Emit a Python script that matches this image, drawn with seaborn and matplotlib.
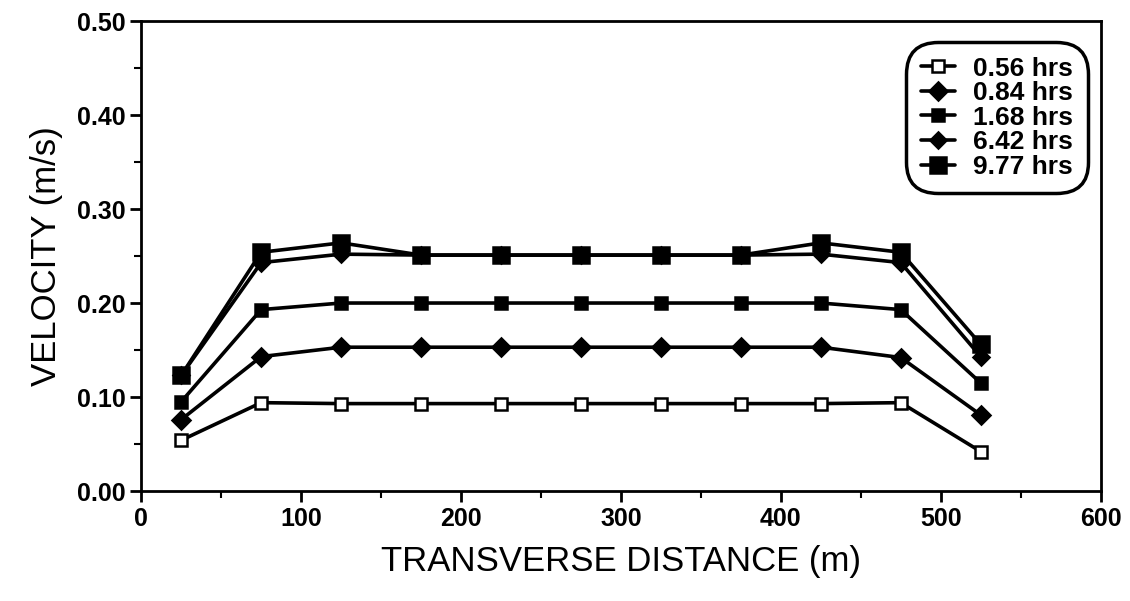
import matplotlib
matplotlib.use("Agg")
import matplotlib.pyplot as plt
import seaborn as sns
import pandas as pd
from matplotlib.ticker import MultipleLocator

# transverse stations (m)
distance = [25, 75, 125, 175, 225, 275, 325, 375, 425, 475, 525]

v_056 = [0.054, 0.094, 0.093, 0.093, 0.093, 0.093, 0.093, 0.093, 0.093, 0.094, 0.042]
v_084 = [0.076, 0.143, 0.153, 0.153, 0.153, 0.153, 0.153, 0.153, 0.153, 0.142, 0.081]
v_168 = [0.095, 0.193, 0.200, 0.200, 0.200, 0.200, 0.200, 0.200, 0.200, 0.193, 0.115]
v_642 = [0.123, 0.243, 0.252, 0.251, 0.251, 0.251, 0.251, 0.251, 0.252, 0.243, 0.143]
v_977 = [0.123, 0.254, 0.264, 0.251, 0.251, 0.251, 0.251, 0.251, 0.264, 0.254, 0.156]

series_names = ["0.56 hrs", "0.84 hrs", "1.68 hrs", "6.42 hrs", "9.77 hrs"]
series_vals = [v_056, v_084, v_168, v_642, v_977]

rows = []
for name, vals in zip(series_names, series_vals):
    for d, v in zip(distance, vals):
        rows.append({"dist": d, "vel": v, "run": name})
df = pd.DataFrame(rows)

sns.set_style("ticks", {"axes.edgecolor": "black", "xtick.color": "black",
                        "ytick.color": "black", "text.color": "black",
                        "axes.labelcolor": "black"})
plt.rcParams['font.family'] = ['Liberation Sans', 'DejaVu Sans']

fig = plt.figure(figsize=(11.3, 6.01), dpi=100)
ax = fig.add_axes([0.125, 0.183, 0.849, 0.782])

markers = {"0.56 hrs": "s", "0.84 hrs": "D", "1.68 hrs": "s", "6.42 hrs": "D", "9.77 hrs": "s"}
sns.lineplot(data=df, x="dist", y="vel", hue="run", style="run",
             palette=["black"] * 5, markers=markers, dashes=False,
             linewidth=2.6, markersize=9, markeredgecolor="black",
             ax=ax, legend=True)

# marker face tweaks per series
sizes = [8, 9, 9, 8, 11]
faces = ["white", "black", "black", "black", "black"]
for line, s, fc in zip(ax.lines, sizes, faces):
    line.set_markersize(s)
    line.set_markerfacecolor(fc)
    line.set_markeredgewidth(1.8)

ax.set_xlim(0, 600)
ax.set_ylim(0, 0.5)
ax.xaxis.set_major_locator(MultipleLocator(100))
ax.xaxis.set_minor_locator(MultipleLocator(50))
ax.yaxis.set_major_locator(MultipleLocator(0.1))
ax.yaxis.set_minor_locator(MultipleLocator(0.05))
ax.yaxis.set_major_formatter(matplotlib.ticker.FormatStrFormatter('%.2f'))

ax.tick_params(which='major', direction='out', length=8, width=2, labelsize=18,
               colors='black')
ax.tick_params(which='minor', direction='out', length=5, width=1.5, colors='black')
for lab in ax.get_xticklabels() + ax.get_yticklabels():
    lab.set_fontweight('bold')
for sp in ax.spines.values():
    sp.set_linewidth(2)
    sp.set_visible(True)
    sp.set_color('black')

ax.set_xlabel("TRANSVERSE DISTANCE (m)", fontsize=25, labelpad=10, color='black')
ax.set_ylabel("VELOCITY (m/s)", fontsize=25, labelpad=10, color='black')

handles, labels = ax.get_legend_handles_labels()
for h, s, fc in zip(handles, sizes, faces):
    h.set_markersize(s)
    h.set_markerfacecolor(fc)
    h.set_markeredgewidth(1.8)
leg = ax.legend(handles, labels, loc='upper right', bbox_to_anchor=(0.995, 0.972),
                frameon=True, fancybox=True, handlelength=1.3, handletextpad=0.7,
                labelspacing=0.02, borderpad=0.35,
                prop={'size': 19, 'weight': 'bold'})
frame = leg.get_frame()
frame.set_edgecolor('black')
frame.set_linewidth(2.5)
frame.set_alpha(1)
frame.set_boxstyle('round,pad=0.2,rounding_size=1.2')
for t in leg.get_texts():
    t.set_color('black')

fig.savefig("out.png", dpi=100)
